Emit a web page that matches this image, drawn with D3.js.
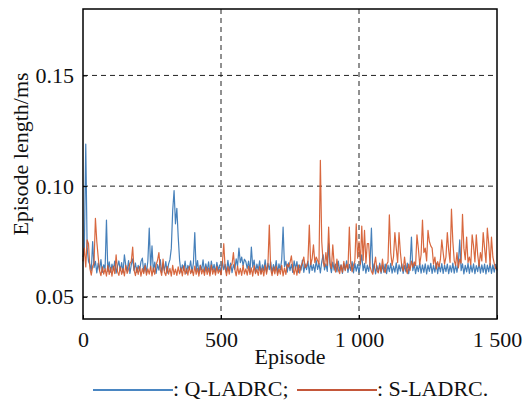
<!DOCTYPE html>
<html>
<head>
<meta charset="utf-8">
<script src="https://cdn.jsdelivr.net/npm/d3@7"></script>
<style>
  html, body { margin: 0; padding: 0; background: #fff; }
  svg { display: block; }
</style>
</head>
<body>
<svg id="chart" width="524" height="402" style="font-family:'Liberation Serif'; font-size:22px;"></svg>
<script>
// Episode index of each sample (every 5th episode)
const episodeStep = 5;
const episodeMax = 1500;

// Q-LADRC episode length (ms), one value per sampled episode
const qLadrc = [
  .068,.072,.119,.072,.066,.0645,.0618,.075,.0632,.066,.0608,.0652,.0621,.0668,.061,.0645,.0625,.0847,.0615,.0658,
  .0612,.0648,.0622,.0661,.0607,.0638,.0662,.0618,.0655,.0609,.069,.0641,.0616,.0664,.0606,.0645,.0672,.0619,.0653,.061,
  .0642,.0617,.0659,.0675,.0612,.0651,.0608,.0662,.081,.0628,.073,.0614,.0657,.0606,.0646,.0621,.0668,.0609,.0649,.0618,
  .0659,.0607,.0648,.0668,.072,.089,.098,.083,.090,.077,.0665,.0612,.0645,.0619,.0661,.0607,.0642,.0624,.0663,.061,
  .0652,.079,.0617,.0664,.0606,.0643,.0622,.0667,.0611,.0649,.0618,.0658,.0605,.0662,.0621,.0647,.0609,.0656,.0619,.0644,
  .0608,.0661,.0623,.0647,.0611,.0665,.0618,.0652,.0609,.0645,.0624,.0672,.0638,.072,.0655,.068,.0641,.067,.0659,.0628,
  .0662,.0612,.0725,.0634,.0666,.0609,.0648,.0621,.0663,.0606,.0645,.0619,.0667,.0611,.0651,.0623,.0658,.0608,.0646,.062,
  .0664,.0607,.0649,.0622,.0668,.0815,.0637,.0661,.0612,.0654,.0618,.0647,.061,.0663,.0625,.0659,.0609,.0644,.0621,.0666,
  .0611,.0648,.0623,.0662,.0607,.0655,.0619,.0646,.0612,.0664,.0624,.0651,.0608,.0658,.069,.0622,.0649,.0615,.074,.0643,
  .0609,.0657,.0621,.0648,.0613,.0661,.0618,.0645,.0606,.065,.0622,.0663,.061,.0647,.0619,.0659,.0608,.0652,.0616,.0646,
  .0611,.0648,.069,.0618,.0651,.0607,.0643,.0615,.0655,.081,.0612,.0649,.0604,.0641,.0613,.0652,.0606,.0645,.0611,.0648,
  .0605,.0643,.0614,.0651,.0607,.0639,.0612,.0654,.0604,.0645,.0616,.0649,.0606,.0641,.0613,.0652,.0605,.0644,.077,.0618,
  .0648,.0605,.0641,.0614,.0652,.0607,.0644,.0611,.0649,.0604,.0643,.0615,.0651,.0606,.0642,.0612,.0653,.0605,.0646,.0613,
  .065,.0606,.0643,.0614,.0648,.0605,.0641,.0612,.0652,.0607,.0645,.0611,.0655,.0757,.0618,.0649,.0604,.0642,.0613,.0651,
  .0606,.0644,.0612,.0649,.0605,.0641,.0614,.0652,.0607,.0645,.0611,.0648,.0604,.0643,.0613,.0651,.0606,.0644,.0612,.0647,
  .062
];

// S-LADRC episode length (ms), one value per sampled episode
const sLadrc = [
  .066,.072,.0635,.0757,.074,.0628,.0598,.0638,.0652,.0855,.075,.068,.0618,.0596,.0635,.0603,.0627,.0594,.0641,.0601,
  .0632,.0593,.0639,.0605,.069,.0614,.0597,.0636,.0602,.0629,.0595,.0642,.0606,.0624,.0651,.066,.0725,.0621,.0596,.0633,
  .0601,.0637,.0594,.0628,.0605,.0641,.0598,.0626,.0603,.0639,.0595,.0631,.0602,.0645,.0665,.070,.0622,.0597,.067,.0611,
  .0596,.0638,.0603,.0629,.0594,.0642,.0601,.0625,.0597,.0636,.0604,.0631,.0595,.064,.0602,.0627,.0598,.0637,.0605,.0624,
  .0596,.0639,.0602,.0628,.0594,.0641,.0604,.0626,.0597,.0635,.0601,.063,.0595,.0643,.0603,.0627,.0598,.0638,.0606,.0623,
  .0599,.0652,.074,.0631,.0596,.0637,.0603,.0641,.0648,.070,.0624,.0595,.0639,.0602,.0629,.0597,.0642,.0604,.0626,.0598,
  .0638,.0601,.0631,.0594,.0641,.0605,.0624,.0597,.0637,.0602,.0629,.0595,.0643,.0603,.0645,.0824,.0628,.0596,.0634,.0604,
  .0639,.0597,.0626,.0603,.0642,.0595,.0631,.0601,.0648,.0635,.0655,.0685,.0629,.0602,.0636,.0598,.0644,.0607,.0638,.0653,
  .068,.0632,.064,.0662,.0824,.0645,.067,.0735,.0655,.068,.0664,.0648,.1117,.075,.0658,.0636,.070,.0642,.0815,.0655,
  .0628,.0735,.0646,.0612,.067,.0621,.0605,.0643,.0611,.066,.0618,.0647,.0626,.0815,.0652,.0614,.0644,.0662,.083,.0675,
  .075,.0648,.082,.0665,.080,.0652,.074,.074,.0638,.0615,.0602,.0641,.068,.0619,.0608,.0645,.0612,.067,.0624,.0609,
  .0646,.0658,.087,.070,.0642,.068,.079,.072,.0655,.079,.070,.0638,.0616,.068,.0627,.0605,.0648,.0619,.0661,.0634,
  .0658,.0641,.078,.072,.0645,.069,.0847,.070,.072,.0662,.080,.075,.073,.072,.0648,.068,.0626,.0659,.0635,.067,
  .0757,.070,.0648,.068,.079,.071,.0656,.0896,.075,.0664,.0642,.070,.0631,.067,.0652,.0873,.072,.0668,.077,.0655,
  .068,.0645,.078,.073,.0658,.078,.069,.0639,.070,.0662,.079,.072,.0655,.081,.074,.0643,.077,.068,.0651,.0628,
  .0625
];

// Axis ticks
const xTicks = [0, 500, 1000, 1500];
const xTickLabels = ["0", "500", "1 000", "1 500"];
const yTicks = [0.05, 0.10, 0.15];
const yTickLabels = ["0.05", "0.10", "0.15"];

const seriesNames = ["Q-LADRC", "S-LADRC"];
const seriesColors = ["#3272b3", "#d4582a"];
const legendColors = ["#4a86c2", "#c4573a"];

const svg = d3.select("#chart");
const margin = { left: 83, top: 9, right: 27, bottom: 83 };
const W = 524 - margin.left - margin.right;
const H = 402 - margin.top - margin.bottom;

const x = d3.scaleLinear().domain([0, episodeMax]).range([0, W]);
const y = d3.scaleLinear().domain([0.04, 0.18]).range([H, 0]);

const g = svg.append("g").attr("transform", `translate(${margin.left},${margin.top})`);

// dashed grid
g.append("g").selectAll("line").data(yTicks).join("line")
  .attr("x1", 0).attr("x2", W)
  .attr("y1", d => y(d)).attr("y2", d => y(d))
  .attr("stroke", "#222").attr("stroke-width", 1).attr("stroke-dasharray", "5,4");
g.append("g").selectAll("line").data(xTicks.filter(t => t > 0 && t < episodeMax)).join("line")
  .attr("x1", d => x(d)).attr("x2", d => x(d))
  .attr("y1", 0).attr("y2", H)
  .attr("stroke", "#222").attr("stroke-width", 1).attr("stroke-dasharray", "5,4");

// series lines
const lineGen = d3.line()
  .x((d, i) => x(i * episodeStep))
  .y(d => y(d));

[qLadrc, sLadrc].forEach((vals, k) => {
  g.append("path")
    .datum(vals)
    .attr("fill", "none")
    .attr("stroke", seriesColors[k])
    .attr("stroke-width", 1.2)
    .attr("stroke-linejoin", "round")
    .attr("opacity", 0.9)
    .attr("d", lineGen);
});

// axes with short inward ticks; labels inherit the svg's serif face
const gx = g.append("g").attr("transform", `translate(0,${H})`)
  .call(d3.axisBottom(x).tickValues(xTicks).tickSizeInner(-4).tickSizeOuter(0)
    .tickFormat((d, i) => xTickLabels[i]).tickPadding(12));
gx.attr("font-family", null).attr("font-size", null);
gx.select(".domain").remove();
gx.selectAll("line").attr("stroke", "#000");
gx.selectAll("text").attr("fill", "#111");

const gy = g.append("g")
  .call(d3.axisLeft(y).tickValues(yTicks).tickSizeInner(-4).tickSizeOuter(0)
    .tickFormat((d, i) => yTickLabels[i]).tickPadding(9));
gy.attr("font-family", null).attr("font-size", null);
gy.select(".domain").remove();
gy.selectAll("line").attr("stroke", "#000");
gy.selectAll("text").attr("fill", "#111");

// frame
g.append("rect").attr("x", 0).attr("y", 0).attr("width", W).attr("height", H)
  .attr("fill", "none").attr("stroke", "#000").attr("stroke-width", 1.5);

// axis titles
svg.append("text")
  .attr("x", margin.left + W / 2).attr("y", 364)
  .attr("text-anchor", "middle").attr("fill", "#111")
  .text("Episode");
svg.append("text")
  .attr("transform", `translate(28,${margin.top + H / 2 - 10}) rotate(-90)`)
  .attr("text-anchor", "middle").attr("fill", "#111")
  .text("Episode length/ms");

// legend
const legendItems = [
  { x1: 93, x2: 173, label: ": " + seriesNames[0] + ";" },
  { x1: 297, x2: 377, label: ": " + seriesNames[1] + "." }
];
legendItems.forEach((it, k) => {
  svg.append("line").attr("x1", it.x1).attr("x2", it.x2).attr("y1", 390).attr("y2", 390)
    .attr("stroke", legendColors[k]).attr("stroke-width", 2);
  svg.append("text").attr("x", it.x2).attr("y", 396).attr("fill", "#111").text(it.label);
});
</script>
</body>
</html>
